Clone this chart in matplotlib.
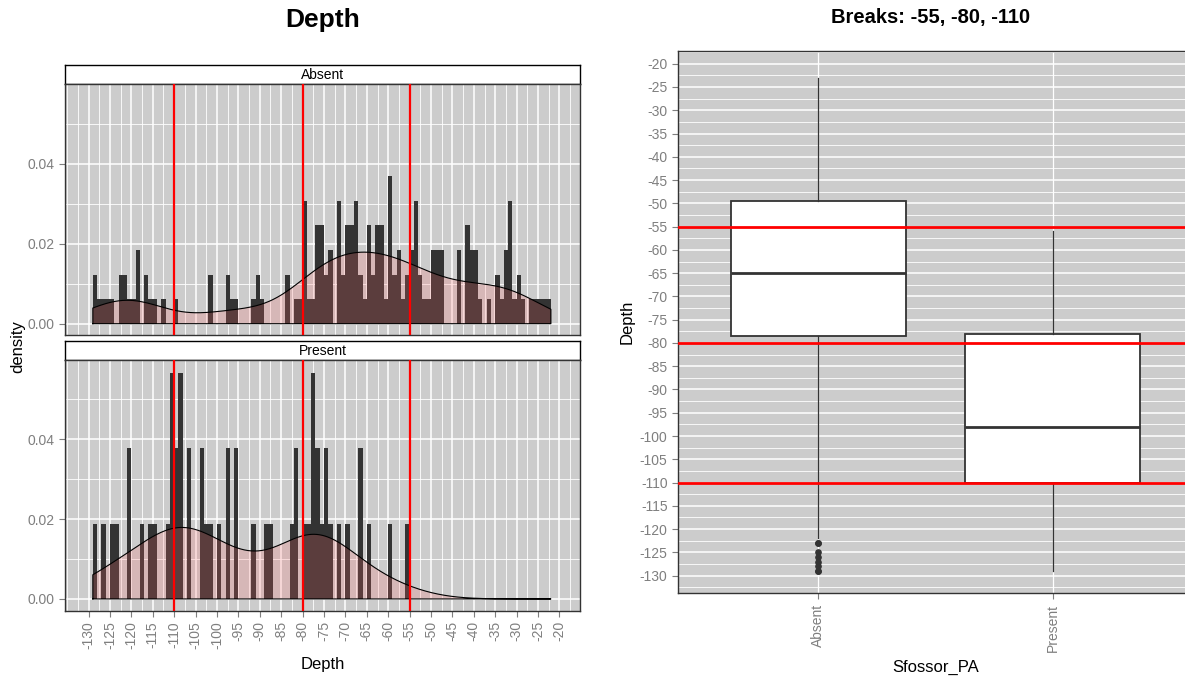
import numpy as np
import matplotlib
matplotlib.use("Agg")
import matplotlib.pyplot as plt
from matplotlib.ticker import FixedLocator, MultipleLocator

plt.rcParams['font.family'] = ['Liberation Sans', 'DejaVu Sans']

# ---- data -------------------------------------------------------------
# number of observations at each whole-metre depth, starting at -129 m
first_depth = -129
absent_counts = [
    2, 1, 1, 1, 1, 0, 2, 2, 1, 1,    # -129 .. -120
    3, 0, 2, 1, 1, 0, 1, 0, 0, 1,    # -119 .. -110
    0, 0, 0, 0, 0, 0, 0, 2, 0, 0,    # -109 .. -100
    0, 2, 1, 1, 0, 0, 0, 1, 2, 1,    #  -99 ..  -90
    0, 0, 0, 0, 0, 2, 0, 1, 1, 5,    #  -89 ..  -80
    1, 1, 4, 4, 2, 3, 0, 5, 2, 4,    #  -79 ..  -70
    4, 5, 2, 1, 4, 2, 4, 4, 1, 6,    #  -69 ..  -60
    2, 3, 1, 2, 3, 5, 2, 1, 1, 3,    #  -59 ..  -50
    3, 3, 0, 0, 0, 3, 0, 4, 3, 3,    #  -49 ..  -40
    1, 0, 1, 0, 2, 1, 3, 5, 1, 2,    #  -39 ..  -30
    1, 0, 1, 1, 1, 1, 1,             #  -29 ..  -23
]
present_counts = [
    1, 0, 1, 0, 1, 1, 0, 0, 2, 0,    # -129 .. -120
    0, 1, 0, 1, 1, 0, 0, 1, 3, 2,    # -119 .. -110
    3, 0, 2, 0, 0, 2, 1, 1, 0, 1,    # -109 .. -100
    0, 2, 0, 2, 0, 0, 0, 1, 0, 0,    #  -99 ..  -90
    1, 1, 0, 0, 0, 0, 1, 2, 0, 1,    #  -89 ..  -80
    1, 3, 2, 1, 2, 1, 0, 1, 0, 1,    #  -79 ..  -70
    0, 0, 2, 0, 1, 0, 0, 0, 0, 1,    #  -69 ..  -60
    0, 0, 0, 1,                      #  -59 ..  -56
]
groups = ["Absent", "Present"]
breaks = [-55, -80, -110]
depth_ticks = list(range(-130, -15, 5))
density_ticks = [0.00, 0.02, 0.04]

# ---- derived values ---------------------------------------------------
n_bins = max(len(absent_counts), len(present_counts))
depths = first_depth + np.arange(n_bins)
edges = first_depth + np.arange(n_bins + 1)


def expand(counts):
    c = np.zeros(n_bins, dtype=int)
    c[:len(counts)] = counts
    return np.repeat(depths, c).astype(float)


values = {"Absent": expand(absent_counts), "Present": expand(present_counts)}


def bw_nrd0(x):
    q75, q25 = np.percentile(x, [75, 25])
    lo = min(np.std(x, ddof=1), (q75 - q25) / 1.34)
    return 0.9 * lo * len(x) ** (-0.2)


def kde(x, grid):
    bw = bw_nrd0(x)
    z = (grid[:, None] - x[None, :]) / bw
    return np.exp(-0.5 * z ** 2).sum(axis=1) / (len(x) * bw * np.sqrt(2 * np.pi))


grid = np.linspace(edges[0], edges[-1], 512)

# ---- figure -----------------------------------------------------------
W, H = 1185, 683
fig = plt.figure(figsize=(W / 100, H / 100), dpi=100)


def rect(x0, y0, x1, y1):
    return [x0 / W, 1 - y1 / H, (x1 - x0) / W, (y1 - y0) / H]


PANEL_BG = "#cccccc"
TICK_COL = "#7f7f7f"
BORDER = "#333333"


def style_panel(ax):
    ax.set_facecolor(PANEL_BG)
    ax.set_axisbelow(True)
    ax.grid(True, which="major", color="white", lw=1.1)
    ax.grid(True, which="minor", color="white", lw=0.6)
    for s in ax.spines.values():
        s.set_color(BORDER)
        s.set_linewidth(1.0)
    ax.tick_params(which="major", colors=TICK_COL, labelsize=10, length=4, width=0.8)
    ax.tick_params(which="minor", length=0)


left_rows = [
    ("Absent", (64.7, 84.3), (84.3, 335.3)),
    ("Present", (340.7, 360.0), (360.0, 610.5)),
]
pl, pr = 65, 580

for k, (grp, (s0, s1), (p0, p1)) in enumerate(left_rows):
    sax = fig.add_axes(rect(pl, s0, pr, s1))
    sax.set_xticks([])
    sax.set_yticks([])
    sax.set_facecolor("white")
    for s in sax.spines.values():
        s.set_color("black")
        s.set_linewidth(1.0)
    sax.text(0.5, 0.45, grp, ha="center", va="center", fontsize=10, color="black",
             transform=sax.transAxes)

    ax = fig.add_axes(rect(pl, p0, pr, p1))
    style_panel(ax)
    x = values[grp]
    ax.hist(x, bins=edges, density=True, color="#333333", edgecolor="none", zorder=2)
    d = kde(x, grid)
    ax.fill_between(grid, 0, d, facecolor=(1.0, 0.4, 0.4, 0.2), edgecolor="none", zorder=3)
    ax.plot(np.r_[grid[0], grid, grid[-1], grid[0]], np.r_[0, d, 0, 0],
            color="black", lw=0.8, zorder=4)
    for b in breaks:
        ax.axvline(b, color="#ff0000", lw=1.6, zorder=5)
    ax.set_xlim(-135.5, -15.2)
    ax.set_ylim(-0.0029, 0.0598)
    ax.xaxis.set_major_locator(FixedLocator(depth_ticks))
    ax.xaxis.set_minor_locator(MultipleLocator(2.5))
    ax.yaxis.set_major_locator(FixedLocator(density_ticks))
    ax.yaxis.set_minor_locator(FixedLocator([0.01, 0.03, 0.05]))
    ax.set_yticklabels([f"{v:.2f}" for v in density_ticks])
    if k == 0:
        ax.tick_params(axis="x", which="both", length=0, labelbottom=False)
    else:
        ax.set_xticklabels([str(t) for t in depth_ticks], rotation=90)
        ax.set_xlabel("Depth", fontsize=12, color="black", labelpad=6)

fig.text(18 / W, 1 - 347 / H, "density", rotation=90, ha="center", va="center",
         fontsize=12, color="black")
fig.text((pl + pr) / 2 / W, 1 - 20 / H, "Depth", ha="center", va="center",
         fontsize=19, fontweight="bold", color="black")

# ---- boxplot panel ----------------------------------------------------
bx = fig.add_axes(rect(678, 50.7, 1193, 593.3))
style_panel(bx)
bx.boxplot([values[g] for g in groups], positions=[1, 2], widths=0.75,
           patch_artist=True, whis=1.5, showcaps=False,
           boxprops=dict(facecolor="white", edgecolor=BORDER, lw=1.3),
           medianprops=dict(color=BORDER, lw=2.0),
           whiskerprops=dict(color=BORDER, lw=0.9),
           flierprops=dict(marker="o", markersize=3.8, markerfacecolor=BORDER,
                           markeredgecolor=BORDER),
           zorder=3)
for b in breaks:
    bx.axhline(b, color="#ff0000", lw=2.0, zorder=5)
bx.set_xlim(0.4, 2.6)
bx.set_ylim(-133.8, -17.2)
bx.yaxis.set_major_locator(FixedLocator(depth_ticks))
bx.yaxis.set_minor_locator(MultipleLocator(2.5))
bx.set_yticklabels([str(t) for t in depth_ticks])
bx.set_xticks([1, 2])
bx.set_xticklabels(groups, rotation=90)
bx.grid(True, which="major", axis="x", color="white", lw=0.9)
bx.set_xlabel("Sfossor_PA", fontsize=12, color="black", labelpad=6)
bx.set_ylabel("Depth", fontsize=12, color="black", labelpad=4)
fig.text(931 / W, 1 - 17 / H, "Breaks: -55, -80, -110", ha="center", va="center",
         fontsize=14.5, fontweight="bold", color="black")

fig.savefig("out.png", dpi=100)
